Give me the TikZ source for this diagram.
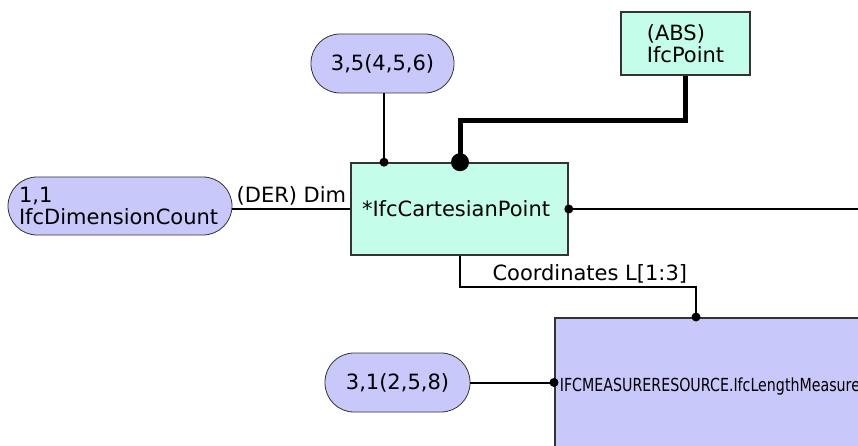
\documentclass[tikz,border=0pt]{standalone}
\usepackage{fontspec}
\setmainfont{DejaVu Sans}
\usepackage{graphicx}
\usetikzlibrary{positioning,calc,arrows.meta}
\definecolor{entityfill}{RGB}{196,253,234}
\definecolor{typefill}{RGB}{200,200,250}
\tikzset{
  entitybox/.style={draw=black!80, line width=1.6pt, fill=entityfill, align=left},
  typebox/.style={draw=black!80, line width=1.6pt, fill=typefill, inner xsep=4pt},
  cardpill/.style={draw=black!80, line width=0.8pt, fill=typefill, rounded corners=29pt, align=left},
  link/.style={line width=2pt},
  abslink/.style={line width=5pt}
}

\begin{document}
\begin{tikzpicture}[x=1pt, y=-1pt, font=\fontsize{21}{22}\selectfont]
          \useasboundingbox (0,0) rectangle (858,446);
          \clip (0,0) rectangle (858,446);

          % entities
          \node[entitybox, minimum width=217pt, minimum height=92pt, text width=195pt, inner xsep=11pt] (cartpt) at (459.5,209) {*IfcCartesianPoint};
          \node[entitybox, minimum width=129pt, minimum height=63pt] (abspt) at (685.5,43.5) {(ABS)\\IfcPoint};
          \node[typebox, anchor=north west, minimum width=330pt, minimum height=140pt, text width=320pt, align=left] (lenmeas) at (554,317)
            {\raisebox{6pt}{\fontsize{18}{20}\selectfont\scalebox{0.79}[1]{IFCMEASURERESOURCE.IfcLengthMeasure}}};

          % cardinalities
          \node[cardpill, minimum width=143pt, minimum height=59pt] (card1) at (382.5,63.5) {3,5(4,5,6)};
          \node[cardpill, minimum width=224pt, minimum height=58pt, text width=202pt, inner xsep=11pt] (dimcnt) at (120,206) {1,1\\IfcDimensionCount};
          \node[cardpill, minimum width=145pt, minimum height=59pt] (card2) at (397.5,382.5) {3,1(2,5,8)};
          \coordinate (rightend) at (870,209);

          % links
          \draw[link] (card1.south -| 384,0) -- (cartpt.north -| 384,0);
          \fill (cartpt.north -| 384,0) circle (4.5);
          \draw[abslink] (abspt.south) -- ($(abspt.south)+(0,45)$) -| (cartpt.north -| 460,0);
          \fill (cartpt.north -| 460,0) circle (9);
          \draw[link] (cartpt.west) -- (cartpt.west -| dimcnt.east) node[pos=0, above left, inner sep=3pt] {(DER) Dim};
          \draw[link] (cartpt.east) -- (rightend);
          \fill (cartpt.east) circle (4.5);
          \draw[link] (cartpt.south -| 460,0) -- (460,287) -- (696,287) node[pos=0.55, above, inner sep=3pt] {Coordinates L[1:3]} -- (lenmeas.north -| 696,0);
          \fill (lenmeas.north -| 696,0) circle (4.5);
          \draw[link] (card2.east) -- (card2.east -| lenmeas.west);
          \fill (card2.east -| lenmeas.west) circle (4.5);
        \end{tikzpicture}
\end{document}
